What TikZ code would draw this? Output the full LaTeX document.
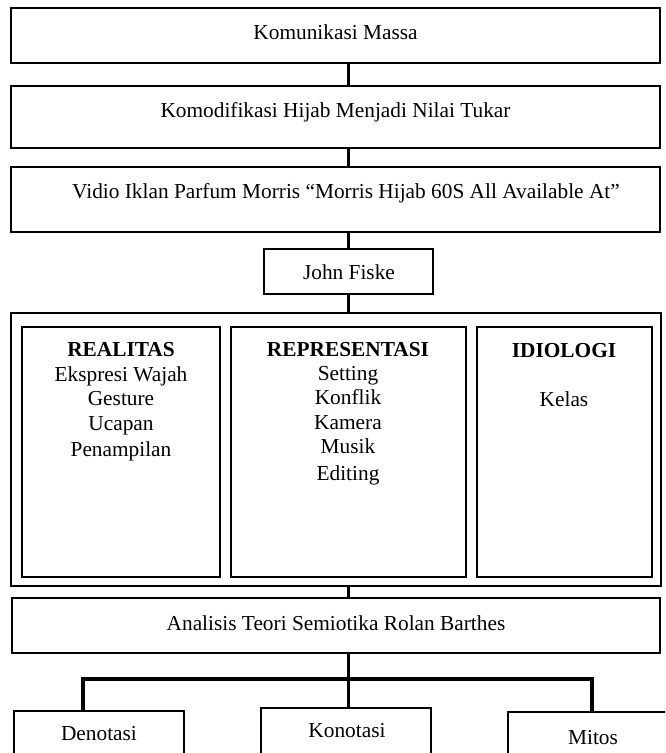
\documentclass[tikz,border=0pt]{standalone}
\usepackage{fontspec}
\setmainfont{Liberation Serif}
\begin{document}
\begin{tikzpicture}[x=0.5625pt,y=-0.5625pt,
  box/.style={draw, line width=1.1pt, inner sep=0pt, outer sep=0pt},
  pxbox/.style 2 args={minimum width={#1*0.5625pt}, minimum height={#2*0.5625pt}},
  conn/.style={line width=2pt},
  txt/.style={anchor=base, inner sep=0pt, font=\fontsize{12}{14}\selectfont},
  hd/.style={txt, font=\fontsize{12}{14}\selectfont\bfseries}]
\useasboundingbox (0,0) rectangle (665,753);
\clip (0,0) rectangle (665,753);
% boxes
\node[box, pxbox={649}{55}] (b1) at (335.5,35.5) {};
\node[box, pxbox={649}{62}] (b2) at (335.5,117) {};
\node[box, pxbox={649}{65}] (b3) at (335.5,199.5) {};
\node[box, pxbox={169}{45}] (jf) at (348.5,271.5) {};
\node[box, pxbox={650}{273}] (outer) at (336,449.5) {};
\node[box, pxbox={198}{250}] (real) at (121,452) {};
\node[box, pxbox={235}{250}] (repr) at (348.5,452) {};
\node[box, pxbox={175}{250}] (idio) at (564.5,452) {};
\node[box, pxbox={648}{55}] (an) at (336,625.5) {};
\node[box, pxbox={170}{79}] (den) at (99,750.5) {};
\node[box, pxbox={170}{82}] (kon) at (346,749) {};
\node[box, pxbox={170}{78}] (mit) at (593,751) {};
% texts
\node[txt] (t1) at (335.5,39) {Komunikasi Massa};
\node[txt] (t2) at (335.5,117) {Komodifikasi Hijab Menjadi Nilai Tukar};
\node[txt] (t3) at (346,198) {Vidio Iklan Parfum Morris “Morris Hijab 60S All Available At”};
\node[txt] (tjf) at (349,279) {John Fiske};
\node[hd] (r0) at (121,356) {REALITAS};
\node[txt] (r1) at (121,381) {Ekspresi Wajah};
\node[txt] (r2) at (121,405) {Gesture};
\node[txt] (r3) at (121,430) {Ucapan};
\node[txt] (r4) at (121,456) {Penampilan};
\node[hd] (p0) at (348,356) {REPRESENTASI};
\node[txt] (p1) at (348,380) {Setting};
\node[txt] (p2) at (348,404) {Konflik};
\node[txt] (p3) at (348,429) {Kamera};
\node[txt] (p4) at (348,453) {Musik};
\node[txt] (p5) at (348,480) {Editing};
\node[hd] (i0) at (564,357) {IDIOLOGI};
\node[txt] (i1) at (564,406) {Kelas};
\node[txt] (tan) at (336,630) {Analisis Teori Semiotika Rolan Barthes};
\node[txt] (tden) at (99,740) {Denotasi};
\node[txt] (tkon) at (347,737) {Konotasi};
\node[txt] (tmit) at (593,744) {Mitos};
% connectors
\draw[conn] (b1.south -| jf) -- (b2.north -| jf);
\draw[conn] (b2.south -| jf) -- (b3.north -| jf);
\draw[conn] (b3.south -| jf) -- (jf.north);
\draw[conn] (jf.south) -- (outer.north -| jf);
\draw[conn] (outer.south -| jf) -- (an.north -| jf);
\draw[conn] (an.south -| jf) -- (kon.north -| jf);
\coordinate (hl) at (83,679);
\coordinate (hr) at (592,679);
\draw[conn] (den.north -| hl) -- (hl) -- (hr) -- (mit.north -| hr);
\end{tikzpicture}
\end{document}
